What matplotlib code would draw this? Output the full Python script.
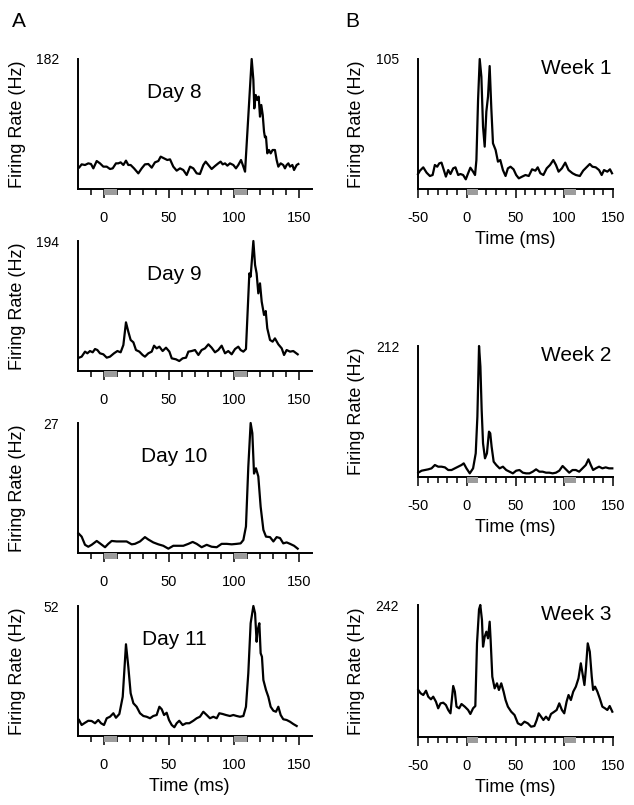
"""Peri-stimulus firing rate histograms: daily sessions (A) and weekly
sessions (B), saved as out.png.
"""
import matplotlib.pyplot as plt
from matplotlib.patches import Rectangle
from matplotlib.transforms import blended_transform_factory

plt.rcParams['font.family'] = ['Liberation Sans', 'DejaVu Sans']
plt.rcParams['axes.unicode_minus'] = False

# Values: time (ms) and firing rate (Hz)
day8_t = [-19.0, -17.2, -14.6, -12.1, -10.0, -8.2, -5.6, -3.1, -0.5, 2.1,
          4.6, 6.7, 9.2, 11.0, 12.8, 14.9, 16.9, 18.7, 20.5, 23.1,
          26.4, 29.0, 31.5, 34.1, 36.7, 39.2, 41.8, 43.6, 46.2, 48.7,
          50.8, 53.3, 55.9, 58.5, 61.0, 63.6, 66.2, 68.7, 71.3, 73.8,
          76.4, 78.2, 80.3, 82.8, 85.4, 87.9, 89.7, 91.3, 93.1, 94.9,
          96.9, 99.5, 101.5, 103.3, 105.4, 107.2, 108.5, 113.6, 114.9, 115.6,
          116.7, 117.9, 119.0, 120.0, 121.0, 122.1, 123.1, 123.8, 124.6, 125.6,
          126.9, 128.2, 129.7, 131.5, 132.8, 134.1, 135.9, 137.9, 139.2, 140.5,
          141.8, 143.1, 144.9, 146.2, 148.2, 149.5]
day8_hz = [30.3, 34.5, 33.6, 35.9, 35.0, 28.9, 39.2, 35.9, 31.3, 31.3,
           28.0, 28.9, 35.9, 35.9, 37.3, 33.6, 39.7, 33.6, 33.6, 28.9,
           21.9, 28.9, 34.5, 35.0, 29.9, 37.3, 39.2, 45.3, 42.9, 40.6,
           41.5, 31.3, 25.7, 28.9, 26.6, 19.6, 31.3, 28.9, 21.9, 21.0,
           33.6, 38.3, 33.6, 28.0, 32.2, 35.9, 38.3, 34.5, 35.9, 32.7,
           35.9, 33.6, 28.9, 33.6, 40.6, 31.3, 24.3, 182, 152.6, 112.9,
           131.6, 124.6, 129.3, 101.3, 117.6, 103.6, 80.3, 72.3, 73.3, 49.9,
           54.6, 49.9, 54.6, 54.6, 40.6, 31.3, 35.9, 33.6, 28.9, 33.6,
           35.9, 31.3, 33.6, 26.6, 33.6, 35.0]

day9_t = [-19.2, -17.2, -14.6, -12.8, -10.8, -8.7, -6.9, -5.1, -3.1, -0.5,
          2.1, 4.6, 7.7, 10.3, 12.8, 14.9, 16.9, 18.7, 20.5, 22.6,
          24.6, 27.2, 29.7, 31.5, 34.1, 36.7, 38.5, 40.5, 42.6, 45.1,
          47.7, 50.3, 52.1, 55.4, 57.9, 60.5, 63.1, 64.9, 67.4, 70.0,
          72.6, 75.1, 77.7, 80.3, 82.8, 85.4, 87.9, 90.5, 93.1, 95.6,
          98.2, 100.8, 103.3, 105.1, 107.2, 109.2, 111.8, 112.8, 114.9, 116.2,
          117.4, 118.7, 120.0, 121.3, 123.1, 124.4, 125.6, 127.7, 129.7, 131.5,
          134.1, 136.7, 138.5, 140.5, 143.1, 145.6, 149.0]
day9_hz = [19.9, 21.4, 28.9, 26.4, 29.8, 27.9, 32.8, 31.3, 26.4, 24.9,
           19.9, 21.4, 26.4, 29.8, 27.9, 38.8, 72.6, 58.7, 46.3, 42.8,
           31.3, 28.9, 23.9, 21.4, 26.4, 28.9, 37.8, 33.8, 36.3, 29.8,
           34.8, 28.9, 18.9, 17.4, 14.9, 18.9, 19.9, 28.9, 29.8, 31.3,
           23.9, 31.3, 33.8, 39.8, 34.8, 27.9, 31.3, 37.8, 26.4, 29.8,
           24.9, 32.8, 36.3, 31.3, 28.9, 32.8, 145.7, 140.8, 194, 158.2,
           145.7, 115.9, 130.8, 103.5, 83.6, 89.5, 63.7, 46.3, 43.8, 48.7,
           39.8, 33.8, 23.9, 31.3, 28.9, 29.8, 24.9]

day10_t = [-19.7, -17.2, -14.6, -12.1, -9.5, -5.6, -3.1, 0.8, 3.3, 5.9,
           9.7, 13.6, 17.4, 21.3, 23.8, 27.7, 31.5, 34.1, 37.9, 41.8,
           45.6, 49.5, 53.3, 57.2, 61.0, 64.9, 68.2, 71.3, 75.1, 79.0,
           82.8, 86.7, 90.5, 94.4, 98.2, 102.1, 105.1, 107.2, 109.2, 111.0,
           112.8, 114.1, 115.4, 116.9, 118.7, 120.5, 122.6, 124.6, 127.7, 130.3,
           132.8, 135.4, 137.9, 140.5, 143.1, 146.2, 149.0]
day10_hz = [4.1, 3.4, 1.7, 1.3, 1.7, 2.5, 2.0, 1.2, 1.9, 2.5,
            2.4, 2.4, 2.4, 1.8, 1.9, 2.4, 3.3, 2.8, 2.2, 1.8,
            1.5, 0.9, 1.5, 1.5, 1.5, 1.9, 2.3, 1.9, 1.2, 1.7,
            1.3, 1.2, 1.9, 1.9, 1.8, 1.9, 2.0, 2.7, 5.5, 17.9,
            27.0, 24.9, 16.5, 17.6, 15.9, 9.6, 4.8, 3.4, 3.3, 2.4,
            3.3, 3.1, 2.0, 2.2, 1.9, 1.5, 0.9]

day11_t = [-19.2, -17.2, -14.6, -12.1, -9.5, -6.9, -4.4, -2.3, 0.0, 2.1,
           4.6, 7.2, 9.2, 11.8, 14.4, 16.9, 18.7, 20.5, 22.6, 25.1,
           27.7, 30.3, 32.8, 35.4, 37.9, 40.5, 42.6, 44.4, 46.2, 48.2,
           50.0, 52.1, 54.1, 55.9, 57.9, 60.5, 63.1, 65.6, 68.7, 71.3,
           73.8, 76.4, 79.0, 81.5, 84.1, 86.7, 88.7, 91.3, 93.8, 96.9,
           99.5, 102.1, 104.6, 107.2, 109.2, 111.0, 112.8, 114.9, 116.2, 117.4,
           118.2, 119.5, 120.5, 121.5, 122.6, 124.6, 126.4, 128.2, 130.3, 132.3,
           134.1, 135.9, 137.9, 140.5, 143.1, 145.6, 148.2]
day11_hz = [6.4, 4.4, 5.3, 6.1, 6.0, 5.1, 6.4, 5.1, 4.4, 7.1,
            7.7, 9.1, 7.3, 8.8, 15.7, 36.7, 27.7, 17.1, 13.1, 11.7,
            9.1, 8.0, 7.7, 7.1, 8.0, 8.4, 11.7, 10.7, 8.4, 9.3,
            6.4, 4.4, 3.5, 5.1, 6.1, 4.4, 5.1, 5.1, 6.1, 7.1,
            7.7, 9.7, 8.4, 7.1, 7.7, 7.1, 9.1, 8.8, 8.4, 8.0,
            8.4, 8.0, 7.7, 8.0, 11.7, 25.1, 45.1, 52.0, 49.1, 37.7,
            42.4, 45.1, 33.1, 31.7, 22.4, 18.4, 15.7, 11.7, 10.1, 9.7,
            11.7, 8.4, 6.7, 6.4, 5.7, 4.8, 4.0]

week1_t = [-50.0, -48.0, -44.6, -41.2, -37.8, -35.0, -32.7, -30.3, -28.2, -25.9,
           -23.5, -21.4, -19.0, -16.7, -13.9, -11.6, -8.8, -6.5, -3.7, -1.0,
           1.4, 3.7, 6.5, 8.5, 9.9, 11.6, 13.3, 15.0, 16.7, 18.4,
           20.1, 21.8, 23.5, 25.2, 26.9, 29.6, 32.0, 34.4, 37.1, 39.8,
           42.2, 44.9, 48.0, 50.7, 53.4, 56.8, 60.2, 63.6, 67.0, 70.4,
           72.8, 75.5, 78.6, 82.0, 85.4, 88.8, 91.5, 94.2, 97.6, 101.0,
           104.4, 108.5, 111.9, 116.0, 119.4, 122.8, 126.2, 128.9, 132.3, 135.7,
           138.4, 140.8, 144.2, 146.9, 149.0]
week1_hz = [12.1, 14.8, 17.5, 13.2, 10.5, 11.3, 19.4, 18.0, 20.7, 21.3,
            15.3, 10.0, 15.3, 12.1, 16.7, 17.5, 11.3, 12.1, 11.3, 7.8,
            12.7, 17.2, 14.0, 11.3, 23.4, 71.9, 105, 90.7, 50.3, 34.2,
            62.5, 74.6, 99.3, 65.1, 36.9, 31.5, 22.1, 23.4, 15.3, 10.5,
            16.7, 18.0, 15.9, 11.3, 8.6, 10.0, 11.3, 10.5, 15.9, 14.8,
            17.5, 12.7, 11.3, 16.7, 19.4, 23.4, 19.4, 14.0, 16.7, 21.3,
            15.3, 12.7, 11.3, 10.5, 14.8, 17.5, 20.2, 18.0, 17.5, 15.3,
            11.3, 15.3, 14.0, 15.9, 12.7]

week2_t = [-49.7, -46.3, -42.9, -39.5, -36.1, -32.7, -29.3, -25.9, -22.4, -19.0,
           -15.6, -12.2, -8.8, -5.4, -3.1, -0.3, 3.1, 6.5, 9.2, 10.9,
           12.6, 14.0, 15.3, 16.7, 18.7, 20.7, 22.8, 24.1, 25.5, 27.6,
           30.3, 33.7, 37.1, 40.5, 43.9, 47.3, 50.7, 54.1, 57.5, 60.9,
           64.3, 67.7, 71.1, 74.5, 77.9, 81.3, 84.7, 88.1, 91.5, 94.9,
           98.3, 101.7, 105.1, 108.5, 111.9, 115.3, 118.7, 122.1, 124.8, 127.2,
           129.6, 132.3, 135.7, 139.1, 142.5, 145.9, 149.3]
week2_hz = [7.0, 10.2, 11.3, 12.4, 14.0, 19.4, 16.7, 16.7, 15.6, 11.3,
            11.3, 14.0, 16.7, 19.4, 22.1, 14.0, 5.9, 14.0, 38.3, 97.6,
            212, 178.5, 108.4, 54.5, 30.2, 38.3, 73.4, 70.7, 49.1, 24.8,
            19.4, 14.0, 16.7, 11.3, 8.6, 5.9, 10.2, 11.3, 7.0, 5.9,
            5.9, 8.6, 12.4, 8.6, 8.6, 7.0, 7.0, 5.9, 7.0, 10.2,
            17.8, 12.4, 7.0, 11.3, 11.3, 8.6, 14.0, 19.4, 28.6, 19.4,
            11.3, 14.0, 16.7, 14.0, 15.6, 14.0, 14.0]

week3_t = [-49.7, -47.3, -44.6, -41.8, -39.5, -36.7, -34.4, -31.6, -29.3, -26.9,
           -24.1, -21.4, -19.0, -16.7, -13.9, -12.2, -10.5, -7.8, -5.4, -2.0,
           1.4, 3.7, 6.5, 8.8, 10.5, 12.6, 13.9, 15.6, 16.7, 18.4,
           20.1, 21.8, 23.5, 24.5, 26.2, 28.6, 31.0, 33.0, 35.4, 37.8,
           39.8, 42.2, 45.6, 49.0, 52.4, 55.8, 59.2, 62.6, 66.0, 69.4,
           71.8, 73.8, 76.2, 78.6, 81.3, 84.0, 86.4, 89.8, 92.2, 94.9,
           97.6, 100.0, 102.4, 104.4, 106.8, 109.2, 111.9, 114.6, 117.0, 118.7,
           120.7, 122.1, 124.1, 126.2, 128.2, 129.6, 131.6, 134.0, 136.4, 139.1,
           141.8, 144.2, 146.6, 149.3]
week3_hz = [86.2, 80.1, 77.0, 84.9, 73.9, 69.1, 73.9, 64.8, 52.6, 61.7,
            62.9, 58.7, 49.5, 43.4, 93.5, 83.1, 55.6, 52.6, 60.5, 55.6,
            49.5, 42.2, 52.6, 56.8, 171.7, 234.0, 242, 214.5, 165.6, 183.9,
            193.1, 180.9, 211.4, 177.8, 110.6, 89.2, 98.4, 86.2, 98.4, 83.1,
            67.8, 55.6, 46.4, 40.3, 25.1, 22.0, 28.1, 25.1, 18.9, 20.2,
            31.2, 43.4, 37.3, 31.2, 37.3, 31.2, 42.2, 46.4, 49.5, 61.7,
            49.5, 43.4, 64.8, 77.0, 67.8, 83.1, 92.3, 107.6, 135.1, 116.7,
            95.3, 122.8, 171.7, 156.4, 110.6, 86.2, 92.3, 83.1, 70.9, 55.6,
            52.6, 49.5, 56.8, 46.4]

day_titles = ['Day 8', 'Day 9', 'Day 10', 'Day 11']
day_peaks = [182, 194, 27, 52]
week_titles = ['Week 1', 'Week 2', 'Week 3']
week_peaks = [105, 212, 242]
stim_onsets = [0, 100]

W, H = 634, 805


def pixel_axes(fig, left, top, right, bottom):
    """Add axes given as pixel edges of the 634x805 figure."""
    return fig.add_axes([left / W, 1 - bottom / H,
                         (right - left) / W, (bottom - top) / H])


def draw_panel(ax, t, hz, peak, xlim, major, minor, bar_len):
    """Draw one firing-rate trace with the shared axis styling."""
    ax.plot(t, hz, color='black', lw=1.6, clip_on=False,
            solid_joinstyle='round')
    ax.set_xlim(*xlim)
    ax.set_ylim(0, peak)
    ax.spines['top'].set_visible(False)
    ax.spines['right'].set_visible(False)
    ax.spines['left'].set_linewidth(1.4)
    ax.spines['bottom'].set_linewidth(1.4)
    ax.set_xticks(major)
    ax.set_xticks(minor, minor=True)
    ax.tick_params(axis='x', which='major', length=6.5, width=1.1, pad=9.5,
                   labelsize=10.5)
    ax.tick_params(axis='x', which='minor', length=4.3, width=1.1)
    ax.set_yticks([peak])
    ax.set_yticklabels([str(peak)])
    ax.tick_params(axis='y', length=0, pad=13.5, labelsize=10)
    # grey stimulus markers just under the time axis
    trans = blended_transform_factory(ax.transData, ax.transAxes)
    for x0 in stim_onsets:
        ax.add_patch(Rectangle((x0, -0.046), bar_len, 0.046, transform=trans,
                               facecolor='#9c9c9c', edgecolor='none',
                               clip_on=False, zorder=3))


def main():
    fig = plt.figure(figsize=(W / 100, H / 100), dpi=100)

    # Column A: daily sessions
    rows_a = [(59, 189), (241, 371), (423, 553), (606, 736)]
    series_a = [(day8_t, day8_hz), (day9_t, day9_hz),
                (day10_t, day10_hz), (day11_t, day11_hz)]
    minor_a = [-10, 10, 20, 30, 40, 60, 70, 80, 90, 110, 120, 130, 140]
    for i, (top, bottom) in enumerate(rows_a):
        ax = pixel_axes(fig, 78, top, 312, bottom)
        t, hz = series_a[i]
        draw_panel(ax, t, hz, day_peaks[i], (-20, 160), [0, 50, 100, 150],
                   minor_a, 10)
        ax.text(0.41, 0.815, day_titles[i], transform=ax.transAxes,
                ha='center', va='top', fontsize=15)
        ax.set_ylabel('Firing Rate (Hz)', fontsize=13)
        ax.yaxis.set_label_coords(-0.222, 0.5)
        if i == len(rows_a) - 1:
            ax.set_xlabel('Time (ms)', fontsize=13, labelpad=4, x=0.477)

    # Column B: weekly sessions
    rows_b = [(59, 189), (346, 477), (605, 737)]
    series_b = [(week1_t, week1_hz), (week2_t, week2_hz),
                (week3_t, week3_hz)]
    minor_b = [-40, -30, -20, -10, 10, 20, 30, 40, 60, 70, 80, 90,
               110, 120, 130, 140]
    for i, (top, bottom) in enumerate(rows_b):
        ax = pixel_axes(fig, 418, top, 613, bottom)
        t, hz = series_b[i]
        draw_panel(ax, t, hz, week_peaks[i], (-50, 150),
                   [-50, 0, 50, 100, 150], minor_b, 12)
        ax.text(0.99, 1.0, week_titles[i], transform=ax.transAxes,
                ha='right', va='top', fontsize=15)
        ax.set_ylabel('Firing Rate (Hz)', fontsize=13)
        ax.yaxis.set_label_coords(-0.272, 0.5)
        ax.set_xlabel('Time (ms)', fontsize=13, labelpad=4)

    fig.text(12 / W, 1 - 12 / H, 'A', ha='left', va='top', fontsize=15)
    fig.text(345 / W, 1 - 12 / H, 'B', ha='left', va='top', fontsize=15)

    fig.savefig('out.png', dpi=100)


if __name__ == '__main__':
    main()
